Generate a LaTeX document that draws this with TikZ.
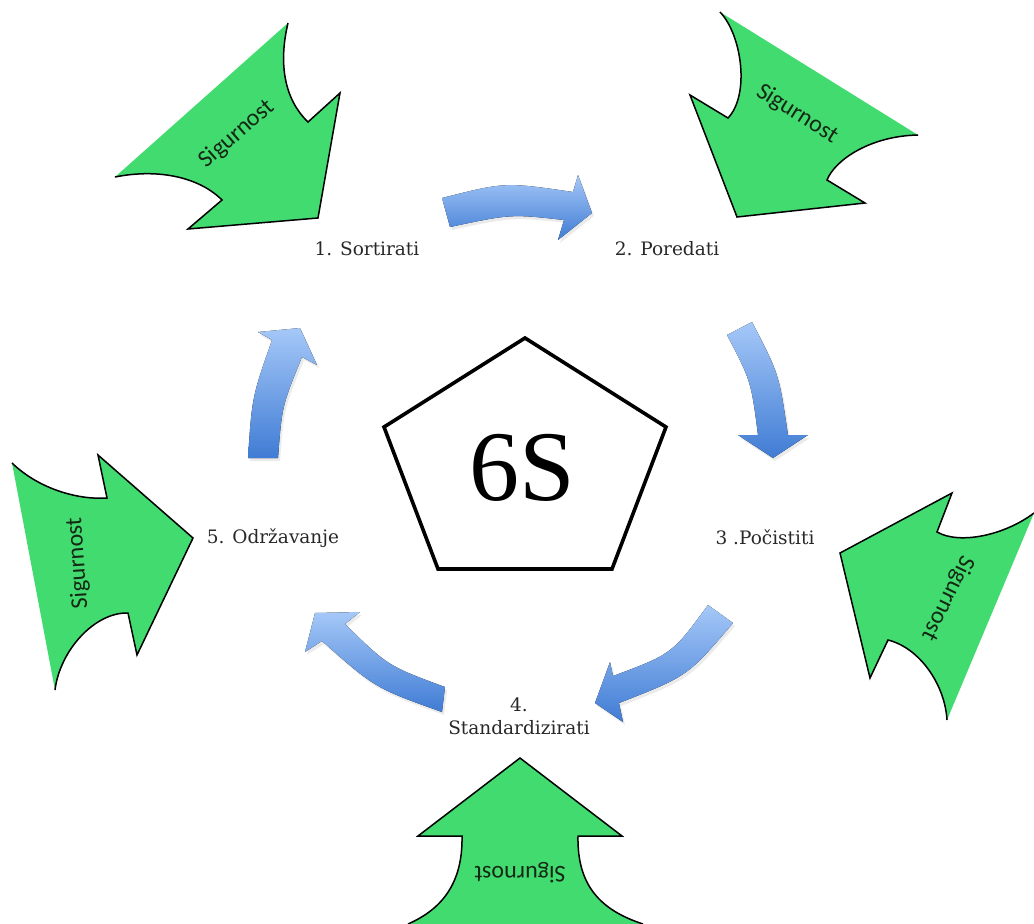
\documentclass[tikz,border=0pt]{standalone}
\usepackage{fontspec}
\setmainfont{DejaVu Serif}
\newfontfamily\sigfont{Carlito}
\newfontfamily\bigfont{Liberation Serif}
\definecolor{sgreen}{RGB}{66,219,112}
\definecolor{btop}{RGB}{165,200,248}
\definecolor{bbot}{RGB}{64,124,212}
\definecolor{labelgray}{RGB}{40,40,40}
\definecolor{sigtext}{RGB}{20,40,20}
\begin{document}
\begin{tikzpicture}[x=1pt,y=-1pt,
  greenarrow/.style={fill=sgreen,draw=black,line width=1.5pt,line join=miter},
  bluearrow/.style={top color=btop,bottom color=bbot,draw=none},
  blueshadow/.style={fill=black,opacity=0.08},
  steplabel/.style={font=\fontsize{18.5}{23}\selectfont,text=labelgray,inner sep=0pt,align=center},
  siglabel/.style={font=\sigfont\fontsize{24}{24}\selectfont,text=sigtext,inner sep=0pt}]
\useasboundingbox (0,0) rectangle (1034,924);
\clip (0,0) rectangle (1034,924);

% green arrows (back edges left unstroked)
\filldraw[greenarrow] (288,23) .. controls (278,65) and (285,100) .. (308,122) -- (340,93) -- (318,218) -- (188,229) -- (222,200) .. controls (200,178) and (160,168) .. (115,177);
\node[siglabel,rotate=41] (sig1) at (237,134) {Sigurnost};

\filldraw[greenarrow] (720,12) .. controls (742,35) and (750,95) .. (728,118) -- (690,95) -- (737,217) -- (865,203) -- (827,180) .. controls (835,160) and (870,136) .. (918,135);
\node[siglabel,rotate=-32] (sig2) at (797,114) {Sigurnost};

\filldraw[greenarrow] (947,720) .. controls (945,685) and (920,648) .. (888,640) -- (870,678) -- (840,553) -- (952,493) -- (937,532) .. controls (960,545) and (1005,535) .. (1034,513);
\node[siglabel,rotate=-116] (sig3) at (948,598) {Sigurnost};

\filldraw[greenarrow] (408,924) .. controls (440,910) and (463,885) .. (462,836) -- (418,836) -- (520,758) -- (622,836) -- (578,836) .. controls (577,885) and (600,910) .. (643,924);
\node[siglabel,rotate=180] (sig4) at (520,873) {Sigurnost};

\filldraw[greenarrow] (12,463) .. controls (40,490) and (80,500) .. (107,498) -- (98,455) -- (193,538) -- (137,655) -- (128,613) .. controls (95,612) and (60,650) .. (55,690);
\node[siglabel,rotate=94] (sig5) at (78,563) {Sigurnost};

% blue curved arrows (faint shadow, then shaded body)
\begin{scope}[shift={(2,3)}]
\fill[blueshadow] (442,198) .. controls (505,182) .. (573,192) -- (578,175) -- (592,213) -- (558,240) -- (564,220) .. controls (511,214) .. (450,227) -- cycle;
\fill[blueshadow] (727,335) .. controls (751,381) .. (758,435) -- (738,435) -- (773,458) -- (808,435) -- (788,435) .. controls (779,374) .. (752,322) -- cycle;
\fill[blueshadow] (708,605) .. controls (672,654) .. (613,676) -- (610,662) -- (595,703) -- (623,722) -- (619,703) .. controls (688,676) .. (733,623) -- cycle;
\fill[blueshadow] (445,687) .. controls (388,666) .. (345,624) -- (360,612) -- (315,613) -- (305,652) -- (322,641) .. controls (375,688) .. (442,712) -- cycle;
\fill[blueshadow] (248,458) .. controls (252,397) .. (272,340) -- (258,332) -- (300,328) -- (317,365) -- (302,357) .. controls (282,406) .. (278,458) -- cycle;
\end{scope}
\fill[bluearrow] (442,198) .. controls (505,182) .. (573,192) -- (578,175) -- (592,213) -- (558,240) -- (564,220) .. controls (511,214) .. (450,227) -- cycle;
\fill[bluearrow] (727,335) .. controls (751,381) .. (758,435) -- (738,435) -- (773,458) -- (808,435) -- (788,435) .. controls (779,374) .. (752,322) -- cycle;
\fill[bluearrow] (708,605) .. controls (672,654) .. (613,676) -- (610,662) -- (595,703) -- (623,722) -- (619,703) .. controls (688,676) .. (733,623) -- cycle;
\fill[bluearrow] (445,687) .. controls (388,666) .. (345,624) -- (360,612) -- (315,613) -- (305,652) -- (322,641) .. controls (375,688) .. (442,712) -- cycle;
\fill[bluearrow] (248,458) .. controls (252,397) .. (272,340) -- (258,332) -- (300,328) -- (317,365) -- (302,357) .. controls (282,406) .. (278,458) -- cycle;

% pentagon
\draw[line width=3.6pt,line join=miter] (525,338) -- (666,427) -- (612,569) -- (438,569) -- (384,427) -- cycle;
\node[font=\bigfont\fontsize{100}{100}\selectfont,inner sep=0pt] (six) at (522,468) {6S};

% step labels
\node[steplabel] (s1) at (367,249) {1. Sortirati};
\node[steplabel] (s2) at (667,249) {2. Poredati};
\node[steplabel] (s3) at (765,537) {3 .Počistiti};
\node[steplabel] (s4) at (519,716) {4.\\Standardizirati};
\node[steplabel] (s5) at (273,538) {5. Održavanje};
\end{tikzpicture}
\end{document}
